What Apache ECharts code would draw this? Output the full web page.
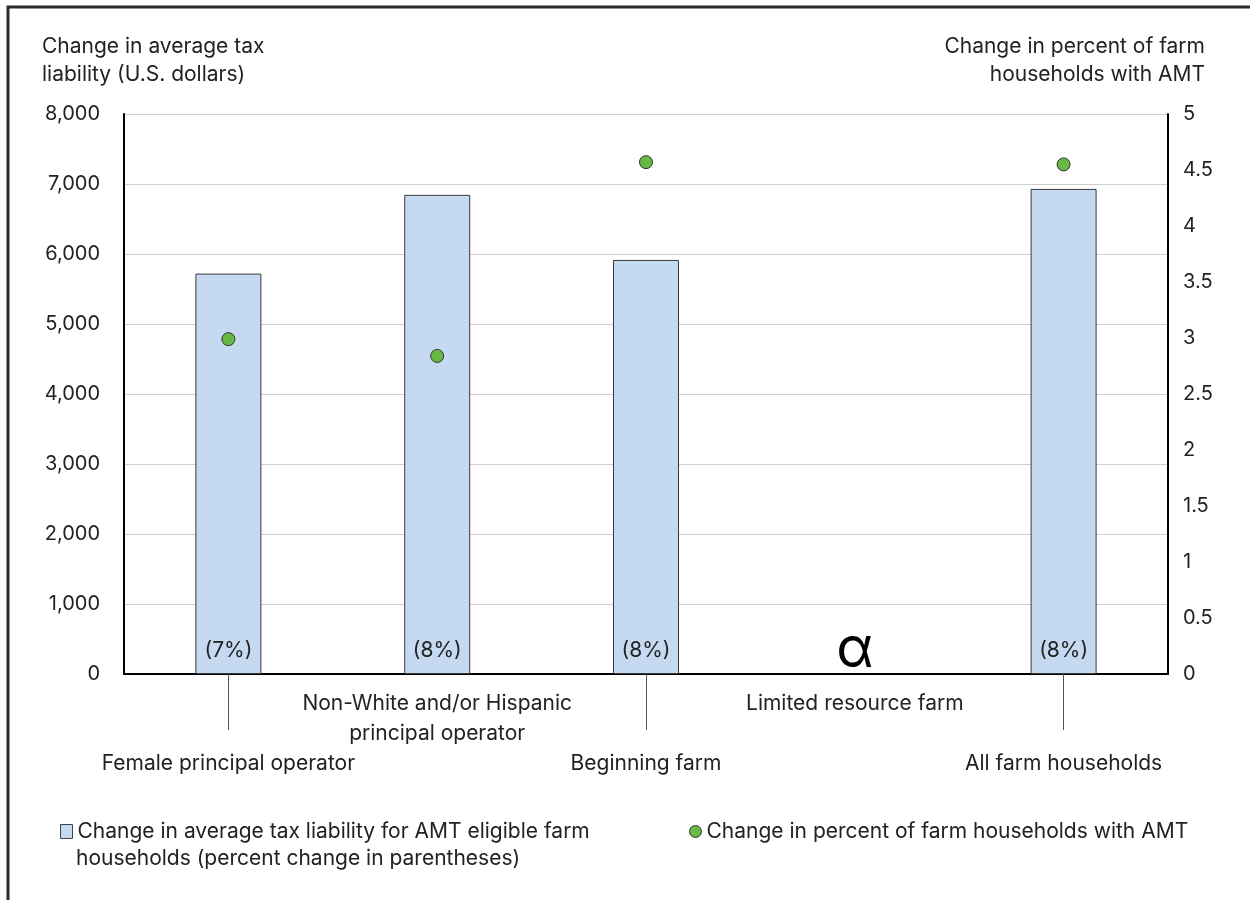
<!DOCTYPE html>
<html>
<head>
<meta charset="utf-8">
<script src="https://cdn.jsdelivr.net/npm/echarts@6/dist/echarts.min.js"></script>
<style>
html,body{margin:0;padding:0;background:#fff;}
#chart{width:1250px;height:900px;}
</style>
</head>
<body>
<div id="chart"></div>
<script>
const categories = [
  'Female principal operator',
  'Non-White and/or Hispanic\nprincipal operator',
  'Beginning farm',
  'Limited resource farm',
  'All farm households'
];
const taxChange = [5720, 6845, 5915, 0, 6930];
const pctLabels = ['(7%)', '(8%)', '(8%)', 'α', '(8%)'];
const amtChange = [2.99, 2.84, 4.57, null, 4.55];
const leftTicks = {min: 0, max: 8000, interval: 1000};
const rightTicks = {min: 0, max: 5, interval: 0.5};
const barName = 'Change in average tax liability for AMT eligible farm households (percent change in parentheses)';
const dotName = 'Change in percent of farm households with AMT';
const leftTitle = 'Change in average tax\nliability (U.S. dollars)';
const rightTitle = 'Change in percent of farm\nhouseholds with AMT';

const FONT = 'Inter';
const TXT = '#222';
const FS = 21;

const chart = echarts.init(document.getElementById('chart'), null, {renderer: 'canvas'});

const barData = taxChange.map((v, i) => {
  const item = {value: v};
  if (pctLabels[i] === 'α') {
    item.itemStyle = {borderWidth: 0};
    item.label = {
      show: true, position: 'top', distance: -4,
      fontSize: 56, color: '#000', fontFamily: FONT,
      formatter: () => pctLabels[i]
    };
  }
  return item;
});

chart.setOption({
  animation: false,
  textStyle: {fontFamily: FONT, color: TXT},
  grid: {left: 124, right: 82, top: 114, bottom: 226, containLabel: false},
  legend: [
    {data: [barName], left: 60, top: 821, padding: 0, icon: 'rect', itemWidth: 12, itemHeight: 14,
     formatter: () => 'Change in average tax liability for AMT eligible farm',
     textStyle: {fontFamily: FONT, fontSize: FS, color: TXT},
     itemStyle: {borderColor: '#444', borderWidth: 1}},
    {data: [dotName], left: 689, top: 821, padding: 0, itemWidth: 12, itemHeight: 12, icon: 'circle',
     textStyle: {fontFamily: FONT, fontSize: FS, color: TXT},
     itemStyle: {borderColor: '#333', borderWidth: 1}}
  ],
  graphic: [
    {type: 'text', x: 42, y: 33, silent: true,
     style: {text: leftTitle, font: FS + 'px ' + FONT, fill: TXT, lineHeight: 28, textAlign: 'left', textVerticalAlign: 'top'}},
    {type: 'text', x: 1205, y: 33, silent: true,
     style: {text: rightTitle, font: FS + 'px ' + FONT, fill: TXT, lineHeight: 28, textAlign: 'right', textVerticalAlign: 'top'}},
    {type: 'text', x: 76, y: 859, silent: true,
     style: {text: 'households (percent change in parentheses)', font: FS + 'px ' + FONT, fill: TXT, textVerticalAlign: 'middle'}},
    {type: 'rect', silent: true, z: 100,
     shape: {x: 8, y: 7, width: 1400, height: 1100},
     style: {fill: 'none', stroke: '#2b2b2b', lineWidth: 3}}
  ],
  xAxis: {
    type: 'category',
    data: categories,
    axisLine: {show: true, lineStyle: {color: '#000', width: 2}},
    axisTick: {show: true, alignWithLabel: true, length: 56,
               interval: (i) => i % 2 === 0, lineStyle: {color: '#555', width: 1}},
    axisLabel: {
      interval: 0, margin: 15, fontSize: FS, color: TXT, fontFamily: FONT, lineHeight: 30,
      formatter: (v, i) => (i % 2 === 0 ? '\n\n' + v : v)
    },
    splitLine: {show: false}
  },
  yAxis: [
    {type: 'value', min: leftTicks.min, max: leftTicks.max, interval: leftTicks.interval,
     axisLine: {show: true, lineStyle: {color: '#000', width: 2}},
     axisTick: {show: false},
     axisLabel: {margin: 24, fontSize: 20, color: TXT, fontFamily: FONT,
                 formatter: (v) => v.toLocaleString('en-US')},
     splitLine: {show: true, lineStyle: {color: '#cfcfcf', width: 1}}},
    {type: 'value', position: 'right', min: rightTicks.min, max: rightTicks.max, interval: rightTicks.interval,
     axisLine: {show: true, lineStyle: {color: '#000', width: 2}},
     axisTick: {show: false},
     axisLabel: {margin: 15, fontSize: 20, color: TXT, fontFamily: FONT,
                 formatter: (v) => String(v)},
     splitLine: {show: false}}
  ],
  series: [
    {name: barName, type: 'bar', yAxisIndex: 0, data: barData, barWidth: 66,
     itemStyle: {color: '#c5d9f0', borderColor: '#3a3a3a', borderWidth: 1},
     label: {show: true, position: 'insideBottom', distance: 13, fontSize: FS, color: TXT, fontFamily: FONT,
             formatter: (p) => pctLabels[p.dataIndex] === 'α' ? '' : pctLabels[p.dataIndex]},
     z: 2},
    {name: dotName, type: 'scatter', yAxisIndex: 1, data: amtChange, symbol: 'circle', symbolSize: 13,
     itemStyle: {color: '#67b944', borderColor: '#333', borderWidth: 1, opacity: 1},
     z: 3}
  ]
});
</script>
</body>
</html>
